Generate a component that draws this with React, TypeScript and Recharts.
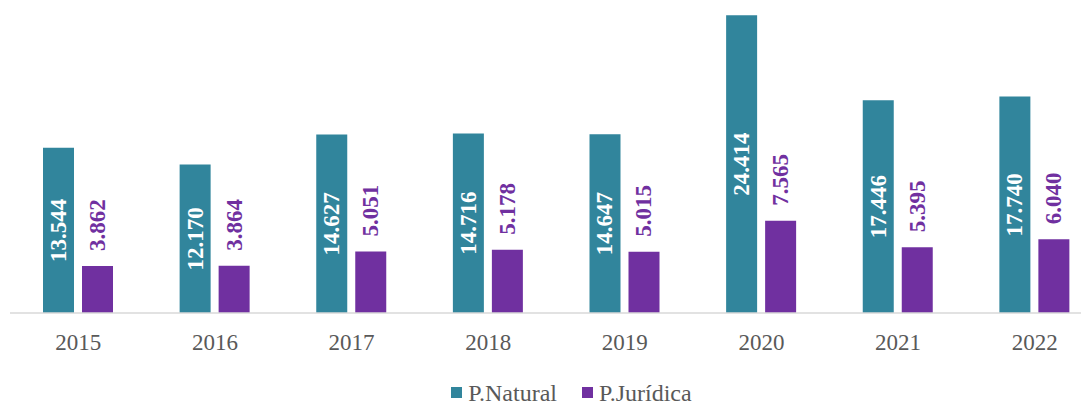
import { BarChart, Bar, XAxis, YAxis, Legend, LabelList } from "recharts"

const years = ["2015", "2016", "2017", "2018", "2019", "2020", "2021", "2022"]
const natural = [13544, 12170, 14627, 14716, 14647, 24414, 17446, 17740]
const juridica = [3862, 3864, 5051, 5178, 5015, 7565, 5395, 6040]

const TEAL = "#31859C"
const PURPLE = "#7030A0"
const FONT = "'Liberation Serif', 'Times New Roman', serif"

const data = years.map((year, i) => ({ year, natural: natural[i], juridica: juridica[i] }))

const fmt = (v: number) => String(v).replace(/\B(?=(\d{3})+(?!\d))/g, ".")

function InsideLabel(props: any) {
  const { x, y, width, height, value } = props
  const cx = x + width / 2
  const cy = y + height / 2
  return (
    <text x={cx} y={cy} transform={`rotate(-90 ${cx} ${cy})`} textAnchor="middle" dominantBaseline="central"
      fill="#fff" fontFamily={FONT} fontWeight="bold" fontSize={23}>
      {fmt(value)}
    </text>
  )
}

function TopLabel(props: any) {
  const { x, y, width, value } = props
  const cx = x + width / 2
  const cy = y - 15
  return (
    <text x={cx} y={cy} transform={`rotate(-90 ${cx} ${cy})`} textAnchor="start" dominantBaseline="central"
      fill={PURPLE} fontFamily={FONT} fontWeight="bold" fontSize={23}>
      {fmt(value)}
    </text>
  )
}

function LegendBox() {
  const item = (color: string, label: string, mr: number) => (
    <span style={{ display: "inline-flex", alignItems: "center", marginRight: mr }}>
      <span style={{ width: 11, height: 11, background: color, display: "inline-block", marginRight: 6 }} />
      <span>{label}</span>
    </span>
  )
  return (
    <div style={{ height: 41, paddingTop: 15, boxSizing: "border-box", textAlign: "center", fontFamily: FONT, fontSize: 24, color: "#595959", lineHeight: "24px", paddingLeft: 30 }}>
      {item(TEAL, "P.Natural", 25)}
      {item(PURPLE, "P.Jurídica", 0)}
    </div>
  )
}

export default function App() {
  return (
    <div style={{ width: 1081, overflow: "hidden" }}>
      <BarChart width={1095} height={396} data={data} margin={{ top: 0, right: 0, left: 2, bottom: 0 }}
        barGap={8} barCategoryGap="24%">
        <XAxis dataKey="year" axisLine={{ stroke: "#d9d9d9", strokeWidth: 1.5 }} tickLine={false} height={50}
          tickMargin={15} tick={{ fill: "#595959", fontSize: 23, fontFamily: FONT }} interval={0} />
        <YAxis hide domain={[0, 25000]} />
        <Legend verticalAlign="bottom" content={() => <LegendBox />} />
        <Bar dataKey="natural" name="P.Natural" fill={TEAL} barSize={31} isAnimationActive={false}>
          <LabelList dataKey="natural" content={InsideLabel} />
        </Bar>
        <Bar dataKey="juridica" name="P.Jurídica" fill={PURPLE} barSize={31} isAnimationActive={false}>
          <LabelList dataKey="juridica" content={TopLabel} />
        </Bar>
      </BarChart>
    </div>
  )
}
